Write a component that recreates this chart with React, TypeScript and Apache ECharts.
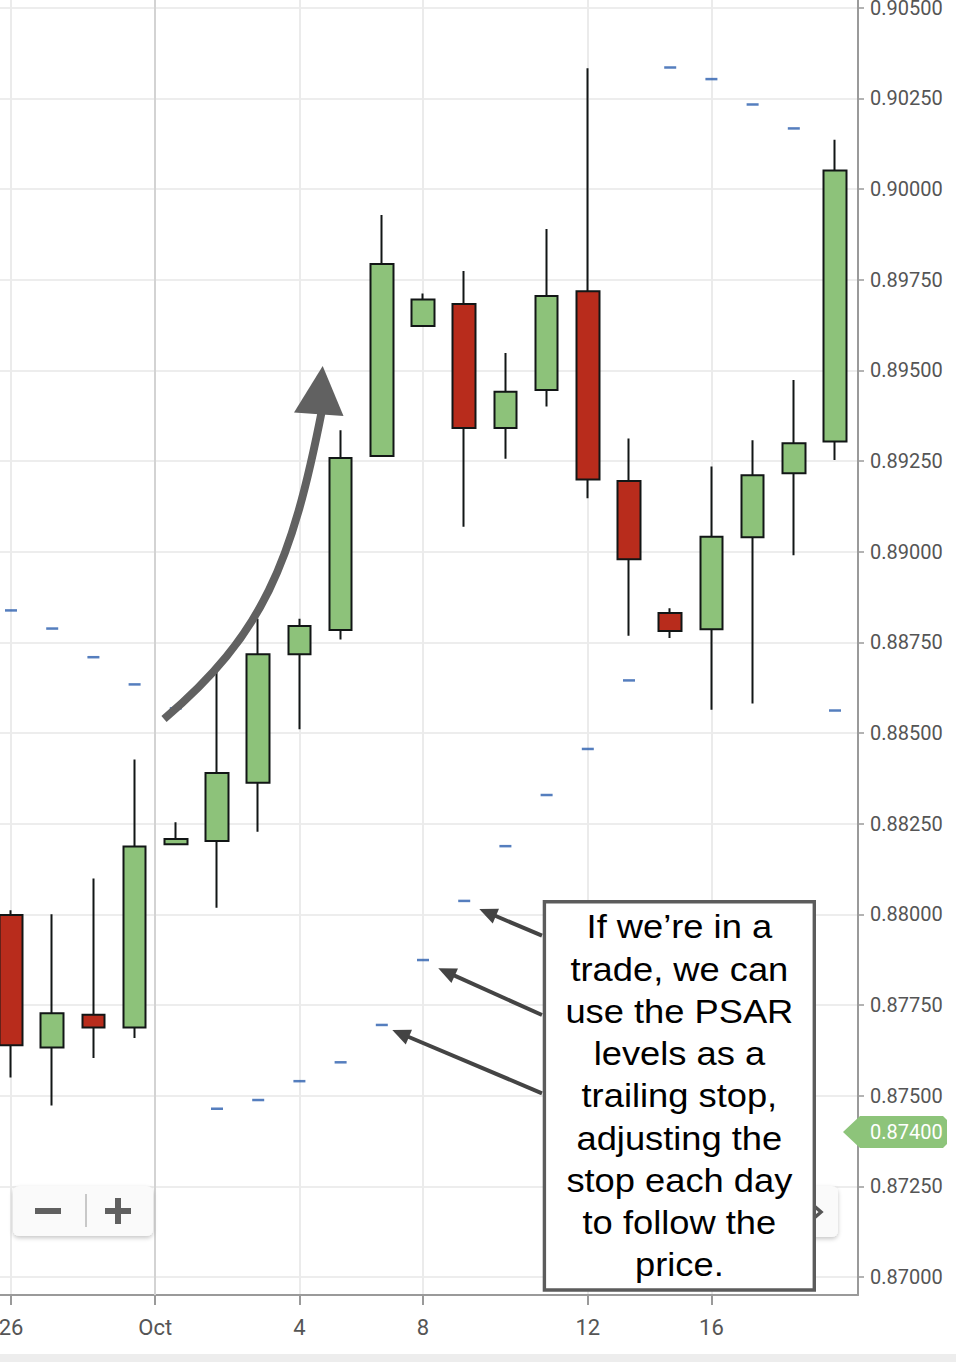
import React, { useEffect, useRef } from 'react';
import * as echarts from 'echarts';

// ---- data (daily candles, trading-day index) ----
const DAY_INDEX = [0, 1, 2, 3, 4, 5, 6, 7, 8, 9, 10, 11, 12, 13, 14, 15, 16, 17, 18, 19, 20];
const OPEN = [0.87998, 0.87633, 0.87723, 0.87688, 0.88193, 0.88202, 0.88363, 0.88717, 0.88784, 0.89264, 0.89622,
  0.89683, 0.89341, 0.89446, 0.89718, 0.89195, 0.88831, 0.88786, 0.8904, 0.89216, 0.89304];
const CLOSE = [0.87639, 0.87727, 0.87688, 0.88187, 0.88208, 0.8839, 0.88717, 0.88795, 0.89258, 0.89793, 0.89695,
  0.89341, 0.89441, 0.89705, 0.89199, 0.88979, 0.88781, 0.89041, 0.89211, 0.89299, 0.90051];
const LOW = [0.8755, 0.87473, 0.87604, 0.87659, 0.88193, 0.88018, 0.88228, 0.8851, 0.88758, 0.89262, 0.89622,
  0.89069, 0.89256, 0.894, 0.89147, 0.88768, 0.88762, 0.88564, 0.88581, 0.8899, 0.89253];
const HIGH = [0.88011, 0.88, 0.88099, 0.88427, 0.88254, 0.88685, 0.88815, 0.88815, 0.89335, 0.89928, 0.89712,
  0.89774, 0.89548, 0.8989, 0.90333, 0.89312, 0.88844, 0.89235, 0.89307, 0.89473, 0.90136];
const PSAR = [0.88838, 0.88788, 0.88709, 0.88634, 0.88568, 0.87464, 0.87488, 0.8754, 0.87592, 0.87695, 0.87874,
  0.88037, 0.88188, 0.88329, 0.88456, 0.88645, 0.90335, 0.90303, 0.90233, 0.90167, 0.88562];

const X_TICK_POS = [0, 3.5, 7, 10, 14, 17];
const X_TICK_LABELS = ['26', 'Oct', '4', '8', '12', '16'];
const MONTH_START = 3.5;
const Y_TICKS = [0.87, 0.8725, 0.875, 0.8775, 0.88, 0.8825, 0.885, 0.8875, 0.89, 0.8925, 0.895, 0.8975, 0.9, 0.9025, 0.905];
const LAST_PRICE = 0.874;
const NOTE_LINES = [
  'If we\u2019re in a',
  'trade, we can',
  'use the PSAR',
  'levels as a',
  'trailing stop,',
  'adjusting the',
  'stop each day',
  'to follow the',
  'price.',
];

function arrow(x1: number, y1: number, x2: number, y2: number, color: string) {
  const dx = x2 - x1;
  const dy = y2 - y1;
  const len = Math.sqrt(dx * dx + dy * dy);
  const ux = dx / len;
  const uy = dy / len;
  const hl = 18;
  const hw = 8;
  const bx = x2 - ux * hl;
  const by = y2 - uy * hl;
  const nx = -uy;
  const ny = ux;
  return [
    {
      type: 'line',
      shape: { x1, y1, x2: bx + ux * 2, y2: by + uy * 2 },
      style: { stroke: color, lineWidth: 4 },
      z: 100,
    },
    {
      type: 'polygon',
      shape: { points: [[x2, y2], [bx + nx * hw, by + ny * hw], [bx - nx * hw, by - ny * hw]] },
      style: { fill: color },
      z: 100,
    },
  ];
}

export default function App() {
  const ref = useRef<HTMLDivElement>(null);

  useEffect(() => {
    if (!ref.current) return;
    const chart = echarts.init(ref.current, null, { renderer: 'svg' });
    const labelFont = 'Roboto, "Noto Sans", sans-serif';

    chart.setOption({
      animation: false,
      backgroundColor: '#ffffff',
      grid: { left: 0, right: 98, top: 0, bottom: 67, containLabel: false, outerBoundsMode: 'none' },
      xAxis: {
        type: 'value',
        min: -0.267,
        max: 20.558,
        axisLine: { show: true, onZero: false, lineStyle: { color: '#9a9a9a', width: 2 } },
        axisTick: { show: true, customValues: X_TICK_POS, length: 10, lineStyle: { color: '#9a9a9a', width: 2 } },
        axisLabel: {
          customValues: X_TICK_POS,
          formatter: (v: number) => {
            const j = X_TICK_POS.findIndex((p) => Math.abs(p - v) < 1e-6);
            return j >= 0 ? X_TICK_LABELS[j] : '';
          },
          color: '#555555',
          fontSize: 22,
          fontFamily: labelFont,
          margin: 21,
        },
        splitLine: { show: true, lineStyle: { color: '#ebebeb', width: 2 } },
      },
      yAxis: {
        type: 'value',
        position: 'right',
        min: 0.869504,
        max: 0.905211,
        scale: true,
        axisLine: { show: true, onZero: false, lineStyle: { color: '#9a9a9a', width: 2 } },
        axisTick: { show: true, customValues: Y_TICKS, length: 6, lineStyle: { color: '#9a9a9a', width: 1.5 } },
        axisLabel: {
          customValues: Y_TICKS,
          formatter: (v: number) => v.toFixed(5),
          color: '#555555',
          fontSize: 20,
          fontFamily: labelFont,
          margin: 12,
        },
        splitLine: { show: true, lineStyle: { color: '#ededed', width: 2 } },
      },
      series: [
        {
          type: 'candlestick',
          data: DAY_INDEX.map((i) => [i, OPEN[i], CLOSE[i], LOW[i], HIGH[i]]),
          encode: { x: 0, y: [1, 2, 3, 4] },
          barWidth: 23,
          itemStyle: {
            color: '#8dc27a',
            color0: '#b82c1c',
            borderColor: '#121616',
            borderColor0: '#121616',
            borderWidth: 2,
          },
          markLine: {
            silent: true,
            symbol: ['none', 'none'],
            label: { show: false },
            lineStyle: { color: '#d3d3d3', width: 2, type: 'solid' },
            data: [{ xAxis: MONTH_START }],
          },
          z: 2,
        },
        {
          type: 'scatter',
          data: DAY_INDEX.map((i) => [i, PSAR[i]]),
          symbol: 'rect',
          symbolSize: [12, 2.5],
          itemStyle: { color: '#2b5eae' },
          z: 3,
        },
      ],
    });

    const yTag = chart.convertToPixel({ yAxisIndex: 0 }, LAST_PRICE) as number;

    const boxX = 544.4;
    const boxY = 901.7;
    const boxW = 269.9;
    const boxH = 388.3;

    const graphics: any[] = [
      // bottom strip
      { type: 'rect', shape: { x: 0, y: 1354, width: 956, height: 8 }, style: { fill: '#ededed' }, z: 50 },
      // zoom controls (left)
      {
        type: 'rect',
        shape: { x: 13, y: 1186, width: 140, height: 50, r: 6 },
        style: { fill: '#fafafa', shadowBlur: 4, shadowOffsetY: 2, shadowColor: 'rgba(0,0,0,0.22)' },
        z: 60,
      },
      { type: 'rect', shape: { x: 35, y: 1208, width: 26, height: 6 }, style: { fill: '#606060' }, z: 61 },
      { type: 'rect', shape: { x: 105, y: 1208, width: 26, height: 6 }, style: { fill: '#606060' }, z: 61 },
      { type: 'rect', shape: { x: 115, y: 1198, width: 6, height: 26 }, style: { fill: '#606060' }, z: 61 },
      { type: 'line', shape: { x1: 86, y1: 1194, x2: 86, y2: 1227 }, style: { stroke: '#c8c8c8', lineWidth: 2 }, z: 61 },
      // zoom control (right, mostly hidden)
      {
        type: 'rect',
        shape: { x: 760, y: 1186, width: 78, height: 51, r: 6 },
        style: { fill: '#fafafa', shadowBlur: 4, shadowOffsetY: 2, shadowColor: 'rgba(0,0,0,0.22)' },
        z: 60,
      },
      {
        type: 'polyline',
        shape: { points: [[813, 1205], [821, 1212], [813, 1219]] },
        style: { stroke: '#555555', lineWidth: 3.5, fill: null },
        z: 61,
      },
      // curved trend arrow
      {
        type: 'bezierCurve',
        shape: { x1: 164, y1: 719, cpx1: 263, cpy1: 635, cpx2: 292, cpy2: 563, x2: 322, y2: 410 },
        style: { stroke: '#616161', lineWidth: 8, fill: null },
        z: 90,
      },
      {
        type: 'polygon',
        shape: { points: [[322.7, 366], [294, 412.5], [343.5, 416]] },
        style: { fill: '#616161' },
        z: 90,
      },
      // annotation arrows
      ...arrow(542, 935.7, 479.3, 909, '#444444'),
      ...arrow(542, 1015, 438.3, 968.3, '#444444'),
      ...arrow(542, 1093.3, 392.3, 1030, '#444444'),
      // annotation box
      {
        type: 'rect',
        shape: { x: boxX, y: boxY, width: boxW, height: boxH },
        style: { fill: '#ffffff', stroke: '#5c5c5c', lineWidth: 3.4 },
        z: 110,
      },
      {
        type: 'text',
        x: boxX + boxW / 2,
        y: boxY + boxH / 2,
        scaleX: 1.1,
        style: {
          text: NOTE_LINES.join('\n'),
          fontSize: 33,
          fontFamily: '"Liberation Sans", Arial, Helvetica, sans-serif',
          fill: '#000000',
          align: 'center',
          verticalAlign: 'middle',
          lineHeight: 42.25,
        },
        z: 111,
      },
      // last price tag
      {
        type: 'polygon',
        shape: {
          points: [
            [843, yTag],
            [860, yTag - 16],
            [943, yTag - 16],
            [947, yTag - 12],
            [947, yTag + 12],
            [943, yTag + 16],
            [860, yTag + 16],
          ],
        },
        style: { fill: '#8dc47a' },
        z: 120,
      },
      {
        type: 'text',
        x: 870,
        y: yTag,
        style: {
          text: LAST_PRICE.toFixed(5),
          fontSize: 20,
          fontFamily: labelFont,
          fill: '#ffffff',
          align: 'left',
          verticalAlign: 'middle',
        },
        z: 121,
      },
    ];

    chart.setOption({ graphic: graphics });

    return () => chart.dispose();
  }, []);

  return <div ref={ref} style={{ position: 'absolute', left: 0, top: 0, width: 956, height: 1362 }} />;
}
